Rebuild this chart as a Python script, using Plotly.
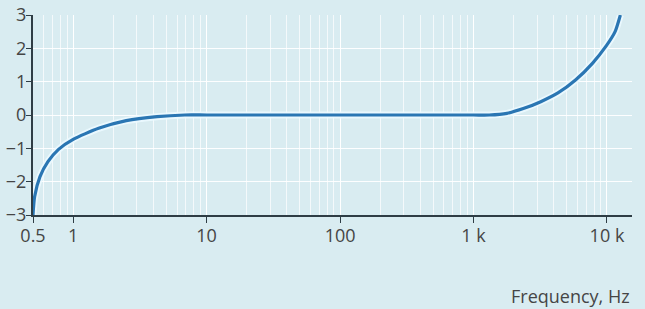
import plotly.graph_objects as go

# Data
freq_hz = [0.5, 0.514, 0.564, 0.647, 0.777, 1.0, 1.55, 2.5, 4.25, 6.86, 10, 100,
           1000, 1310, 1780, 2390, 3190, 4320, 5810, 7780, 9900, 11500, 12600]
gain_db = [-3, -2.45, -1.85, -1.4, -1.03, -0.73, -0.4, -0.17, -0.05, 0, 0, 0,
           0, 0, 0.05, 0.2, 0.4, 0.67, 1.05, 1.55, 2.08, 2.5, 3.0]

x_tickvals = [0.5, 1, 10, 100, 1000, 10000]
x_ticktext = ["0.5", "1", "10", "100", "1 k", "10 k"]
y_tickvals = [-3, -2, -1, 0, 1, 2, 3]
y_ticktext = ["\u22123", "\u22122", "\u22121", "0", "1", "2", "3"]
x_title = "Frequency, Hz"

BG = "rgb(217,236,241)"
AXIS = "#2f3d45"
TXT = "#454545"

fig = go.Figure()
# soft halo under the line
fig.add_trace(go.Scatter(x=freq_hz, y=gain_db, mode="lines",
                         line=dict(color="rgba(235,250,255,0.9)", width=7, shape="spline", smoothing=0.6),
                         hoverinfo="skip", showlegend=False, cliponaxis=False))
fig.add_trace(go.Scatter(x=freq_hz, y=gain_db, mode="lines",
                         line=dict(color="#2a76b3", width=3.2, shape="spline", smoothing=0.6),
                         showlegend=False, cliponaxis=False))

fig.update_layout(
    width=645, height=309,
    margin=dict(l=33, r=13, t=15, b=94),
    paper_bgcolor=BG, plot_bgcolor=BG,
    font=dict(family="Open Sans", size=18, color=TXT),
    xaxis=dict(type="log", range=[-0.30103, 4.1875], automargin=False,
               tickvals=x_tickvals, ticktext=x_ticktext,
               showgrid=True, gridcolor="rgba(255,255,255,0.95)", gridwidth=1.2,
               minor=dict(dtick="D1", showgrid=True, gridcolor="rgba(255,255,255,0.7)", gridwidth=1, ticks=""),
               showline=True, linecolor=AXIS, linewidth=2,
               ticks="outside", ticklen=6, tickcolor=AXIS, tickwidth=1,
               zeroline=False, ticklabelstandoff=-3),
    yaxis=dict(range=[-3, 3], tickvals=y_tickvals, ticktext=y_ticktext, automargin=False,
               showgrid=True, gridcolor="rgba(255,255,255,0.95)", gridwidth=1.2,
               showline=True, linecolor=AXIS, linewidth=2,
               ticks="outside", ticklen=5, tickcolor=AXIS, tickwidth=1,
               zeroline=False, ticklabelstandoff=-4),
    annotations=[dict(text=x_title, xref="paper", yref="paper", x=1, y=-0.405,
                      xanchor="right", yanchor="middle", showarrow=False,
                      font=dict(family="Open Sans", size=18, color=TXT))],
)

fig.write_html("out.html", config={"displayModeBar": False},
               post_script="document.body.style.margin='0';document.body.style.padding='0';"
                           "document.body.style.overflow='hidden';"
                           "document.body.style.background='rgb(217,236,241)';")
